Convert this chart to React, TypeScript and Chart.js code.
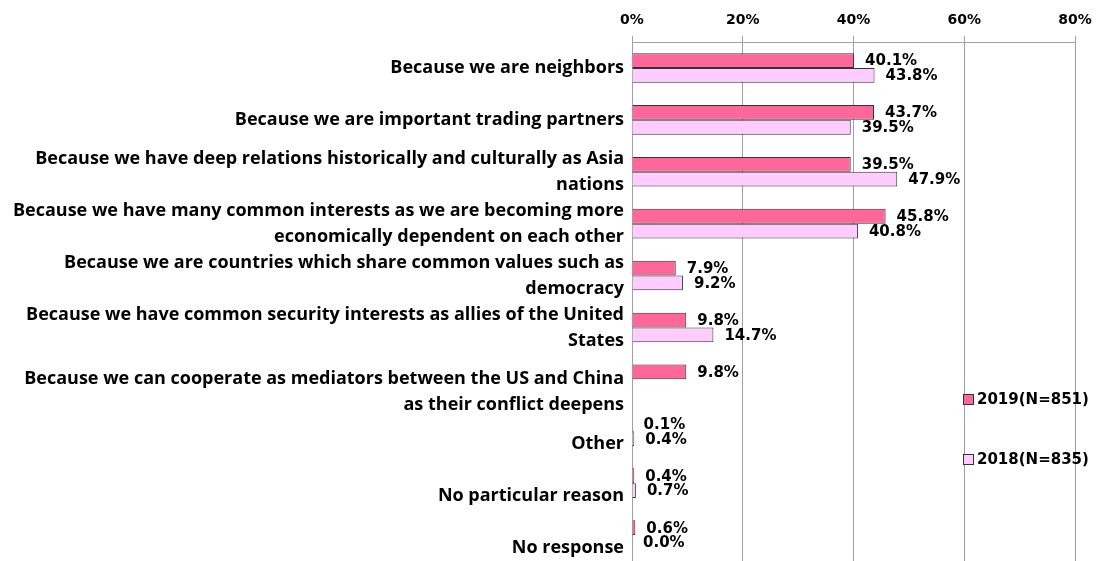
import React, { useEffect, useRef } from "react";
import { Chart, registerables } from "chart.js";

Chart.register(...registerables);

const categories: string[][] = [
  ["Because we are neighbors"],
  ["Because we are important trading partners"],
  ["Because we have deep relations historically and culturally as Asia", "nations"],
  ["Because we have many common interests as we are becoming more", "economically dependent on each other"],
  ["Because we are countries which share common values such as", "democracy"],
  ["Because we have common security interests as allies of the United", "States"],
  ["", "Because we can cooperate as mediators between the US and China", "as their conflict deepens"],
  ["", "Other"],
  ["", "No particular reason"],
  ["", "No response"],
];

const series2019: (number | null)[] = [40.1, 43.7, 39.5, 45.8, 7.9, 9.8, 9.8, 0.1, 0.4, 0.6];
const series2018: (number | null)[] = [43.8, 39.5, 47.9, 40.8, 9.2, 14.7, null, 0.4, 0.7, 0.0];

const legendLabels = ["2019(N=851)", "2018(N=835)"];
const xTicks = [0, 20, 40, 60, 80];

const COLOR_2019 = "#FF6699";
const COLOR_2018 = "#FFCCFF";
const BORDER = "#333333";
const GRID = "#a0a0a0";
const LABEL_FONT = "bold 15px 'DejaVu Sans', sans-serif";

const valueLabels = {
  id: "valueLabels",
  afterDatasetsDraw(chart: any) {
    const ctx = chart.ctx;
    ctx.save();
    ctx.font = LABEL_FONT;
    ctx.fillStyle = "#000";
    ctx.textAlign = "left";
    ctx.textBaseline = "middle";
    chart.data.datasets.forEach((ds: any, di: number) => {
      const meta = chart.getDatasetMeta(di);
      meta.data.forEach((el: any, i: number) => {
        const v = ds.data[i];
        if (v === null || v === undefined) return;
        ctx.fillText(v.toFixed(1) + "%", el.x + 11, el.y + 1);
      });
    });
    ctx.restore();
  },
};

const sideLegend = {
  id: "sideLegend",
  afterDraw(chart: any) {
    const ctx = chart.ctx;
    const area = chart.chartArea;
    const colors = [COLOR_2019, COLOR_2018];
    ctx.save();
    ctx.font = LABEL_FONT;
    ctx.textAlign = "left";
    ctx.textBaseline = "middle";
    legendLabels.forEach((lab, i) => {
      const x = area.right - 112;
      const y = area.top + 358 + i * 60;
      ctx.fillStyle = colors[i];
      ctx.fillRect(x, y - 6, 11, 11);
      ctx.strokeStyle = BORDER;
      ctx.lineWidth = 1;
      ctx.strokeRect(x + 0.5, y - 5.5, 10, 10);
      ctx.fillStyle = "#000";
      ctx.fillText(lab, x + 14, y);
    });
    ctx.restore();
  },
};

export default function App() {
  const ref = useRef<HTMLCanvasElement | null>(null);
  useEffect(() => {
    if (!ref.current) return;
    const chart = new Chart(ref.current, {
      type: "bar",
      data: {
        labels: categories,
        datasets: [
          {
            label: legendLabels[0],
            data: series2019,
            backgroundColor: COLOR_2019,
            borderColor: BORDER,
            borderWidth: 1,
            categoryPercentage: 0.57,
            barPercentage: 1,
          },
          {
            label: legendLabels[1],
            data: series2018,
            backgroundColor: COLOR_2018,
            borderColor: BORDER,
            borderWidth: 1,
            categoryPercentage: 0.57,
            barPercentage: 1,
          },
        ],
      },
      options: {
        indexAxis: "y",
        animation: false,
        responsive: false,
        layout: { padding: { left: 0, right: 21, top: 0, bottom: 0 } },
        plugins: {
          legend: { display: false },
          tooltip: { enabled: false },
        },
        scales: {
          x: {
            position: "top",
            min: 0,
            max: 80,
            afterBuildTicks(scale: any) {
              scale.ticks = xTicks.map((v) => ({ value: v }));
            },
            afterFit(scale: any) {
              scale.height = 42;
              scale.paddingLeft = 0;
              scale.paddingRight = 0;
            },
            ticks: {
              padding: 7,
              color: "#000",
              font: { family: "'DejaVu Sans', sans-serif", size: 14, weight: "bold" },
              callback: (v: any) => v + "%",
            },
            grid: { color: GRID, tickLength: 6, lineWidth: 1 },
            border: { color: GRID },
          },
          y: {
            afterFit(scale: any) {
              scale.width = 632;
              scale.paddingTop = 0;
              scale.paddingBottom = 0;
            },
            grid: { display: false, drawTicks: false },
            border: { display: false },
            ticks: {
              padding: 8,
              color: "#000",
              autoSkip: false,
              font: { family: "'Open Sans', sans-serif", size: 18, weight: "bold", lineHeight: "26px" },
            },
          },
        },
      },
      plugins: [valueLabels, sideLegend],
    });
    return () => chart.destroy();
  }, []);
  return (
    <canvas
      ref={ref}
      width={1096}
      height={561}
      style={{ position: "fixed", left: 0, top: 0, display: "block" }}
    />
  );
}
